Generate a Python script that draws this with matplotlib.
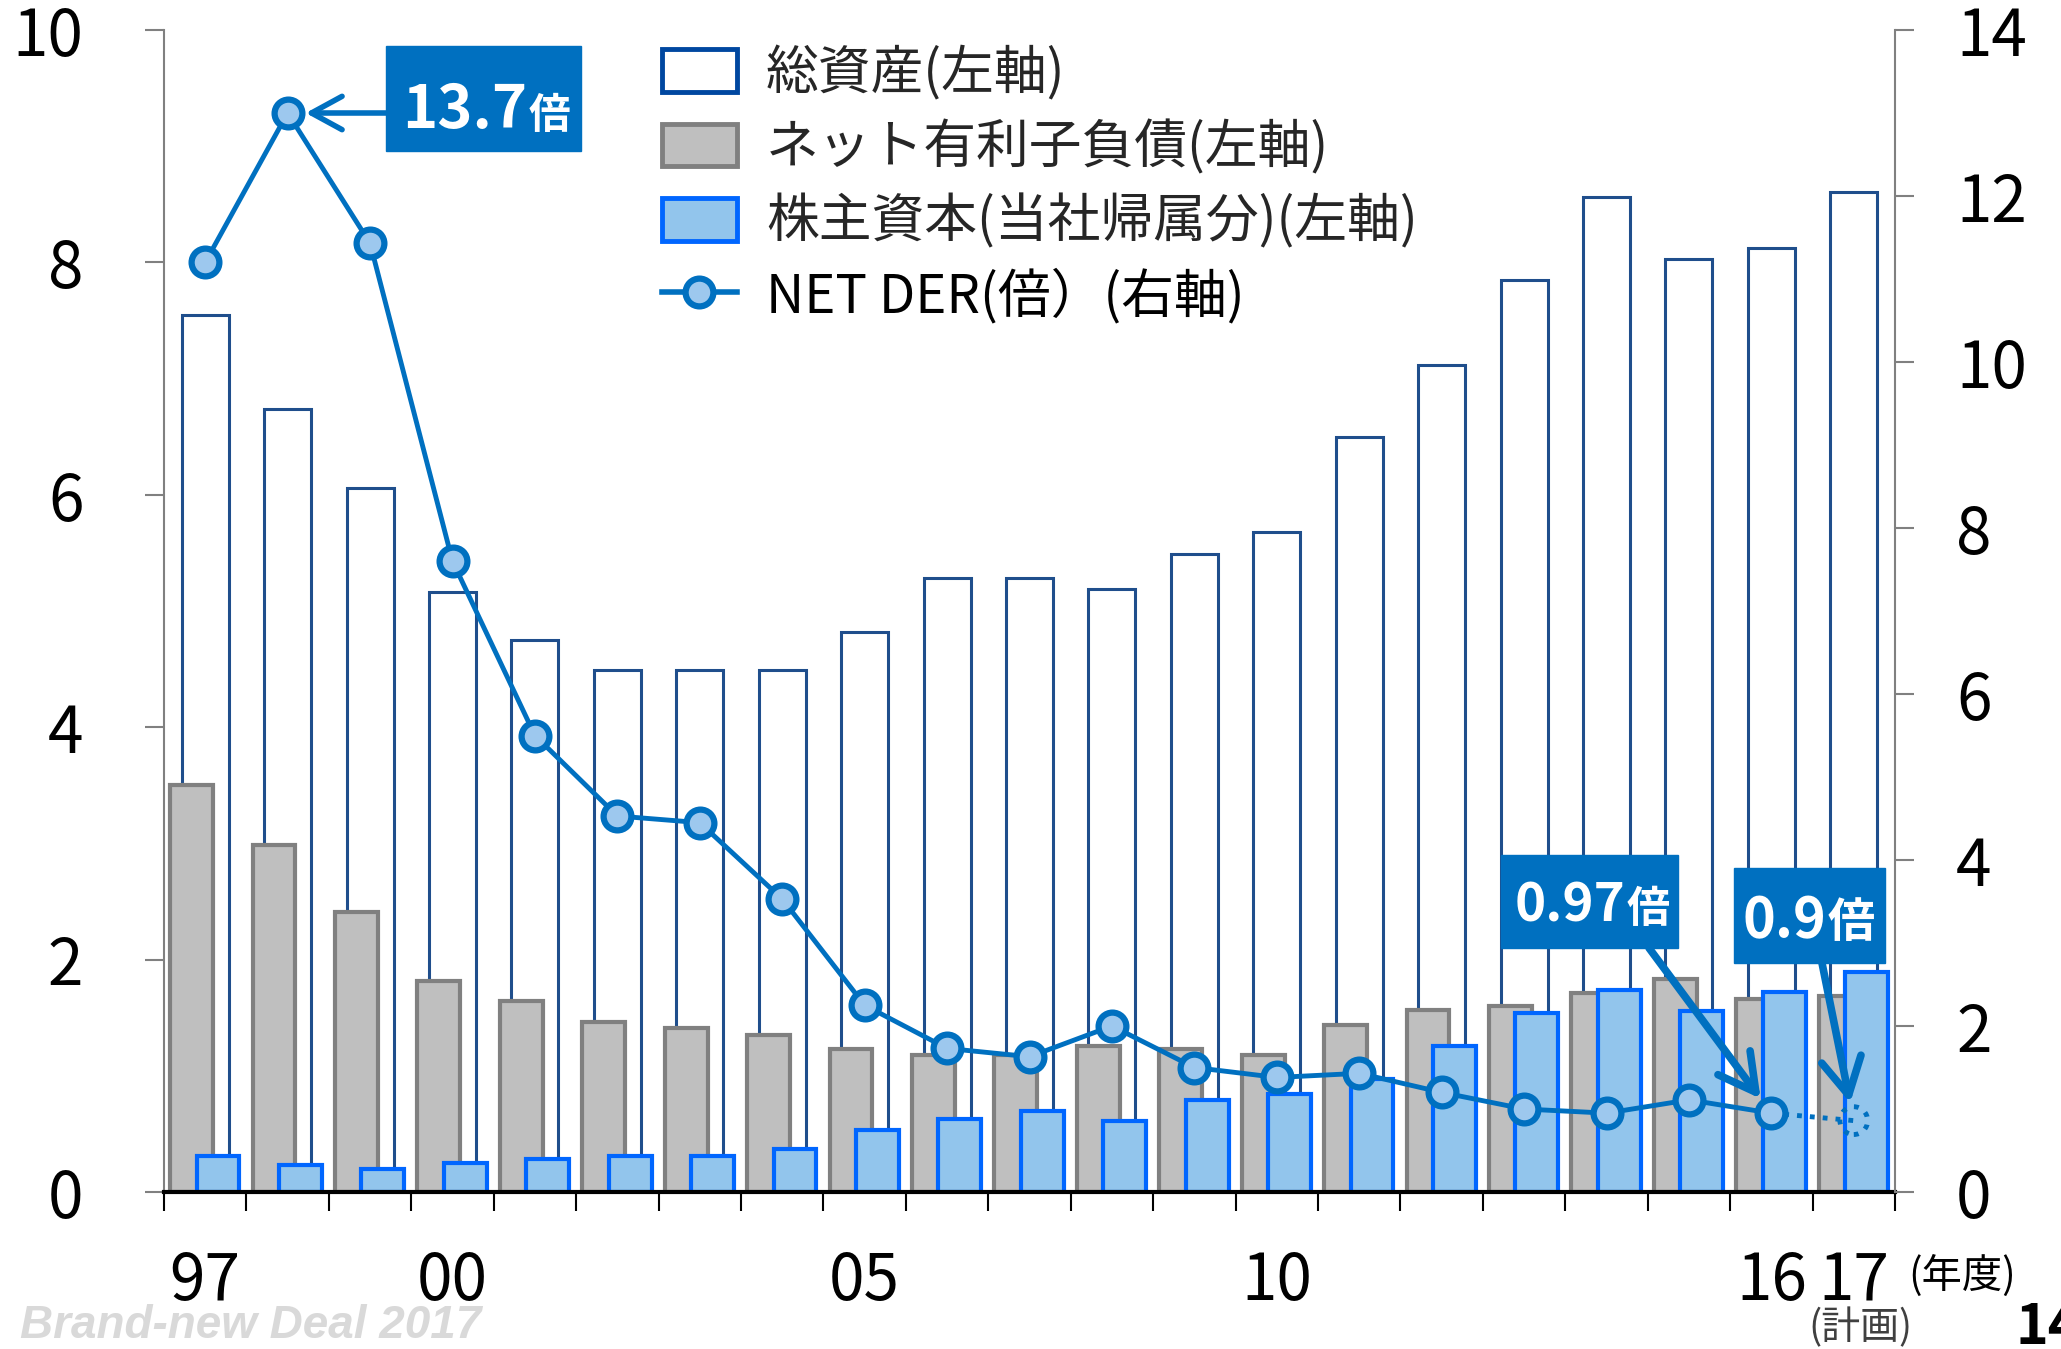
import matplotlib
matplotlib.use('Agg')
import matplotlib.pyplot as plt
from matplotlib.patches import Patch, Rectangle
from matplotlib.lines import Line2D
import numpy as np

plt.rcParams['font.family'] = ['Noto Sans CJK JP', 'DejaVu Sans']

# data
years = ['97', '98', '99', '00', '01', '02', '03', '04', '05', '06', '07',
         '08', '09', '10', '11', '12', '13', '14', '15', '16', '17']
total_assets = [7.55, 6.74, 6.06, 5.16, 4.75, 4.49, 4.49, 4.49, 4.82, 5.28, 5.28,
                5.19, 5.49, 5.68, 6.50, 7.12, 7.85, 8.56, 8.03, 8.12, 8.61]
net_debt = [3.50, 2.99, 2.41, 1.82, 1.64, 1.46, 1.41, 1.35, 1.23, 1.18, 1.18,
            1.26, 1.23, 1.18, 1.44, 1.57, 1.60, 1.71, 1.83, 1.66, 1.69]
equity = [0.31, 0.23, 0.20, 0.25, 0.28, 0.31, 0.31, 0.37, 0.53, 0.63, 0.70,
          0.61, 0.79, 0.84, 0.97, 1.26, 1.54, 1.74, 1.56, 1.72, 1.89]
net_der = [11.2, 13.0, 11.43, 7.60, 5.50, 4.53, 4.45, 3.53, 2.25, 1.73, 1.63,
           2.00, 1.50, 1.38, 1.43, 1.20, 1.00, 0.95, 1.11, 0.95, 0.86]
shown_ticks = {0: '97', 3: '00', 8: '05', 13: '10', 19: '16', 20: '17'}

labels = ['総資産(左軸)', 'ネット有利子負債(左軸)', '株主資本(当社帰属分)(左軸)',
          'NET DER(倍）(右軸)']

NAVY = '#1F4E8C'
GRAY_F, GRAY_E = '#BFBFBF', '#808080'
BLUE_F, BLUE_E = '#92C5EC', '#0066FF'
LINE = '#0070C0'
MK_F = '#9DC8EE'

W, H = 2061, 1349
def fx(px): return px / W
def fy(py): return 1 - py / H

fig = plt.figure(figsize=(20.61, 13.49), dpi=100)
ax = fig.add_axes([fx(164), fy(1192), fx(1895) - fx(164), fy(30) - fy(1192)])
ax2 = ax.twinx()

x = np.arange(len(years))
ax.bar(x + 0.0, total_assets, 0.57, color='white', edgecolor=NAVY, linewidth=2.2, zorder=1)
ax.bar(x - 0.165, net_debt, 0.52, color=GRAY_F, edgecolor=GRAY_E, linewidth=3, zorder=2)
ax.bar(x + 0.155, equity, 0.52, color=BLUE_F, edgecolor=BLUE_E, linewidth=3, zorder=3)

ax.set_xlim(-0.5, len(years) - 0.5)
ax.set_ylim(0, 10)
ax2.set_ylim(0, 14)

# NET DER line: solid up to FY16, dotted to the FY17 plan
ax2.plot(x[:-1], net_der[:-1], color=LINE, lw=3.5, marker='o', ms=20,
         mfc=MK_F, mec=LINE, mew=4.5, zorder=5)
ax2.plot(x[-2:], net_der[-2:], color=LINE, lw=3.5, ls=':', zorder=4)
ax2.scatter([x[-1]], [net_der[-1]], s=20**2, facecolor='none', edgecolor=LINE,
            linewidths=3.5, linestyle=':', zorder=5)

# spines
for s in ['top', 'right']:
    ax.spines[s].set_visible(False)
for s in ['top', 'left', 'bottom']:
    ax2.spines[s].set_visible(False)
ax.spines['left'].set_color(GRAY_E)
ax.spines['left'].set_linewidth(1.5)
ax2.spines['right'].set_color(GRAY_E)
ax2.spines['right'].set_linewidth(1.5)
ax.spines['bottom'].set_color('black')
ax.spines['bottom'].set_linewidth(3)
ax.spines['bottom'].set_zorder(6)

ax.set_yticks(np.arange(0, 11, 2))
ax.tick_params(axis='y', length=14, width=1.5, color=GRAY_E, labelsize=46, pad=44)
ax2.set_yticks(np.arange(0, 15, 2))
ax2.tick_params(axis='y', length=14, width=1.5, color=GRAY_E, labelsize=46, pad=30)

ax.set_xticks(list(shown_ticks.keys()))
ax.set_xticklabels(list(shown_ticks.values()))
ax.set_xticks(np.arange(-0.5, len(years), 1), minor=True)
ax.tick_params(axis='x', which='major', length=0, labelsize=46, pad=41)
ax.tick_params(axis='x', which='minor', length=14, width=1.5, color='black')

# legend
handles = [Patch(facecolor='white', edgecolor='#0047A0', lw=3.5),
           Patch(facecolor=GRAY_F, edgecolor=GRAY_E, lw=3.5),
           Patch(facecolor=BLUE_F, edgecolor=BLUE_E, lw=3.5),
           Line2D([], [], color=LINE, lw=4, marker='o', ms=20, mfc=MK_F, mec=LINE, mew=4.5)]
leg = fig.legend(handles, labels, loc='upper left', bbox_to_anchor=(fx(662), fy(46)),
                 frameon=False, fontsize=38, handlelength=1.42, handleheight=0.87,
                 handletextpad=0.55, labelspacing=0.36, borderpad=0, borderaxespad=0)
for t in leg.get_texts()[:3]:
    t.set_color('#262626')

# callout boxes
def callout(idx, box, num, num_size, kanji_size, text_right, baseline, start, lw, scale):
    x0, y0, x1, y1 = box
    fig.patches.append(Rectangle((fx(x0), fy(y1)), fx(x1) - fx(x0), fy(y0) - fy(y1),
                                 transform=fig.transFigure, color=LINE, zorder=7))
    fig.text(fx(text_right), fy(baseline), num, ha='right', va='baseline', color='white',
             fontsize=num_size, fontweight='bold', zorder=8)
    fig.text(fx(text_right + 2), fy(baseline), '倍', ha='left', va='baseline', color='white',
             fontsize=kanji_size, fontweight='bold', zorder=8)
    ax2.annotate('', xy=(x[idx], net_der[idx]), xycoords='data',
                 xytext=(fx(start[0]), fy(start[1])), textcoords='figure fraction',
                 arrowprops=dict(arrowstyle='->,head_length=1.1,head_width=0.6',
                                 mutation_scale=scale, lw=lw, color=LINE,
                                 shrinkA=0, shrinkB=13), zorder=6)

callout(1, (386, 46, 581, 151), '13.7', 43, 30, 527, 128, (386, 113), 4, 20)
callout(19, (1501, 855, 1678, 948), '0.97', 38, 31, 1625, 922, (1649, 948), 5.5, 24)
callout(20, (1734, 868, 1885, 963), '0.9', 40, 34, 1826, 937, (1822, 963), 5.5, 24)

# extra texts
fig.text(fx(1908), fy(1276), '(年度)', ha='left', va='center', fontsize=29)
fig.text(fx(1860), fy(1328), '(計画)', ha='center', va='center', fontsize=28, color='#404040')
fig.text(fx(2015), fy(1343), '14', ha='left', va='baseline', fontsize=40, fontweight='bold')
fig.text(fx(20), fy(1338), 'Brand-new Deal 2017', ha='left', va='baseline', fontsize=33,
         fontweight='bold', fontstyle='italic', color='#D9D9D9',
         family=['Liberation Sans Narrow', 'Liberation Sans', 'DejaVu Sans'])

fig.savefig('out.png', dpi=100)
